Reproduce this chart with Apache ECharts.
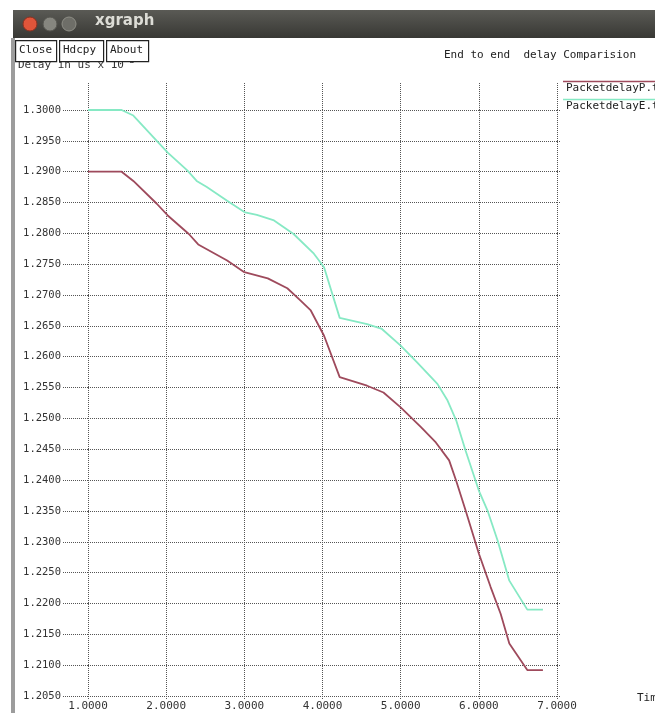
<!DOCTYPE html>
<html>
<head>
<meta charset="utf-8">
<script src="https://cdn.jsdelivr.net/npm/echarts@6/dist/echarts.min.js"></script>
<style>
html,body{margin:0;padding:0;background:#fff;}
#chart{width:655px;height:713px;}
</style>
</head>
<body>
<div id="chart"></div>
<script>
// ---- data ----
const seriesNames = ['PacketdelayP.tr', 'PacketdelayE.tr'];
const timeP = [1.00, 1.43, 1.58, 1.88, 2.02, 2.29, 2.41, 2.78, 3.00, 3.30, 3.55, 3.72, 3.85, 4.02, 4.22, 4.57, 4.78, 5.00, 5.26, 5.45, 5.62, 5.71, 5.83, 6.00, 6.15, 6.28, 6.39, 6.62, 6.82];
const delayP = [1.2900, 1.2900, 1.2885, 1.2848, 1.2829, 1.2799, 1.2782, 1.2756, 1.2737, 1.2727, 1.2711, 1.2691, 1.2675, 1.2634, 1.2567, 1.2553, 1.2542, 1.2518, 1.2486, 1.2461, 1.2432, 1.2399, 1.2351, 1.2281, 1.2227, 1.2183, 1.2135, 1.2092, 1.2092];
const timeE = [1.00, 1.43, 1.58, 1.88, 2.02, 2.27, 2.39, 2.52, 2.78, 3.01, 3.16, 3.38, 3.63, 3.89, 4.02, 4.22, 4.57, 4.76, 5.00, 5.21, 5.47, 5.60, 5.71, 5.83, 6.00, 6.11, 6.24, 6.39, 6.62, 6.82];
const delayE = [1.3000, 1.3000, 1.2991, 1.2950, 1.2931, 1.2902, 1.2885, 1.2875, 1.2853, 1.2834, 1.2830, 1.2821, 1.2799, 1.2767, 1.2745, 1.2663, 1.2653, 1.2645, 1.2618, 1.2591, 1.2556, 1.2529, 1.2497, 1.2448, 1.2383, 1.2351, 1.2302, 1.2237, 1.2190, 1.2190];
const xMin = 1, xMax = 7, xStep = 1;
const yMin = 1.205, yMax = 1.300, yStep = 0.005;
const chartTitle = 'End to end  delay Comparision';
const yTitle = 'Delay in us x 10';
const xTitle = 'Time';
const buttons = ['Close', 'Hdcpy', 'About'];

// ---- styles ----
const MONO = '"DejaVu Sans Mono", "Liberation Mono", monospace';
const RED = '#9e4a5c';
const GREEN = '#86e9c4';
const dotted = { color: '#555555', width: 1, type: [1, 1] };

const chart = echarts.init(document.getElementById('chart'), null, { renderer: 'canvas' });

const btnX = [15, 59, 106], btnW = [41, 44, 42];
const graphic = [
  // title bar
  { type: 'rect', left: 13, top: 10, shape: { width: 660, height: 28 }, z: 10,
    style: { fill: new echarts.graphic.LinearGradient(0, 0, 0, 1, [{ offset: 0, color: '#5a5a55' }, { offset: 1, color: '#383834' }]) } },
  { type: 'circle', shape: { cx: 30, cy: 24, r: 7 }, z: 11, style: { fill: '#e0553a', stroke: '#8a3020', lineWidth: 1 } },
  { type: 'circle', shape: { cx: 50, cy: 24, r: 7 }, z: 11, style: { fill: '#86867f', stroke: '#55554f', lineWidth: 1 } },
  { type: 'circle', shape: { cx: 69, cy: 24, r: 7 }, z: 11, style: { fill: '#6e6e68', stroke: '#8e8e86', lineWidth: 1 } },
  { type: 'text', left: 95, top: 14, z: 11, style: { text: 'xgraph', fill: '#dcdcd6', font: 'bold 15px "DejaVu Sans", sans-serif' } },
  // left window border
  { type: 'rect', left: 11, top: 38, shape: { width: 4, height: 680 }, z: 10, style: { fill: '#9c9c9c' } },
  // y axis unit label (partly hidden behind buttons)
  { type: 'text', left: 18, top: 60, z: 5, style: { text: yTitle, fill: '#333', font: '11px ' + MONO } },
  { type: 'text', left: 124, top: 56, z: 5, style: { text: '-3', fill: '#333', font: '9px ' + MONO } },
  // chart title
  { type: 'text', left: 444, top: 50, z: 5, style: { text: chartTitle, fill: '#222', font: '11px ' + MONO } },
  // x axis title
  { type: 'text', left: 637, top: 693, z: 5, style: { text: xTitle, fill: '#222', font: '11px ' + MONO } },
  // legend
  { type: 'line', shape: { x1: 563, y1: 81.5, x2: 660, y2: 81.5 }, z: 5, style: { stroke: RED, lineWidth: 1.5 } },
  { type: 'text', left: 566, top: 83, z: 5, style: { text: seriesNames[0], fill: '#222', font: '11px ' + MONO } },
  { type: 'line', shape: { x1: 563, y1: 99.5, x2: 660, y2: 99.5 }, z: 5, style: { stroke: GREEN, lineWidth: 1.5 } },
  { type: 'text', left: 566, top: 101, z: 5, style: { text: seriesNames[1], fill: '#222', font: '11px ' + MONO } }
];
buttons.forEach((b, i) => {
  graphic.push({ type: 'rect', left: btnX[i], top: 40, z: 8, shape: { width: btnW[i], height: 21 },
    style: { fill: '#fff', stroke: '#222', lineWidth: 1.2 } });
  graphic.push({ type: 'text', left: btnX[i] + 4, top: 45, z: 9, style: { text: b, fill: '#222', font: '11px ' + MONO } });
});

const fmt = v => v.toFixed(4);

chart.setOption({
  animation: false,
  backgroundColor: '#fff',
  graphic: graphic,
  grid: { left: 88, right: 98, top: 110, bottom: 17, containLabel: false },
  xAxis: [
    { type: 'value', min: xMin, max: xMax, interval: xStep, position: 'bottom',
      axisLine: { show: false }, axisTick: { show: true, length: 3, lineStyle: dotted },
      axisLabel: { formatter: fmt, margin: 5, color: '#333', fontFamily: MONO, fontSize: 11 },
      splitLine: { show: true, lineStyle: dotted } },
    { type: 'value', min: xMin, max: xMax, interval: xStep, position: 'top',
      axisLine: { show: false }, axisTick: { show: true, length: 28, lineStyle: dotted },
      axisLabel: { show: false }, splitLine: { show: false } }
  ],
  yAxis: [
    { type: 'value', min: yMin, max: yMax, interval: yStep, position: 'left',
      axisLine: { show: false }, axisTick: { show: true, length: 25, lineStyle: dotted },
      axisLabel: { formatter: fmt, margin: 27, color: '#333', fontFamily: MONO, fontSize: 10.5 },
      splitLine: { show: true, lineStyle: dotted } },
    { type: 'value', min: yMin, max: yMax, interval: yStep, position: 'right',
      axisLine: { show: false }, axisTick: { show: true, length: 4, lineStyle: dotted },
      axisLabel: { show: false }, splitLine: { show: false } }
  ],
  series: [
    { name: seriesNames[0], type: 'line', showSymbol: false, symbol: 'none', z: 3,
      lineStyle: { color: RED, width: 1.8 }, itemStyle: { color: RED },
      data: timeP.map((t, i) => [t, delayP[i]]) },
    { name: seriesNames[1], type: 'line', showSymbol: false, symbol: 'none', z: 3,
      lineStyle: { color: GREEN, width: 1.8 }, itemStyle: { color: GREEN },
      data: timeE.map((t, i) => [t, delayE[i]]) }
  ]
});
</script>
</body>
</html>
